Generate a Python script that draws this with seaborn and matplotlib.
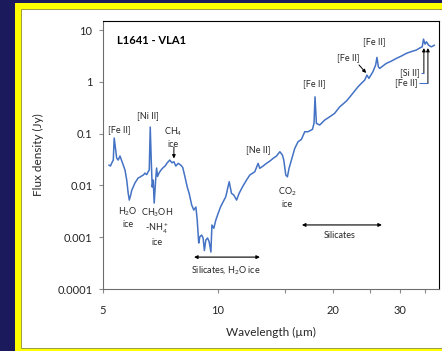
import matplotlib
matplotlib.use("Agg")
import matplotlib.pyplot as plt
import pandas as pd
import seaborn as sns
from matplotlib.patches import Rectangle
from matplotlib.ticker import FixedLocator, FixedFormatter, NullFormatter, NullLocator

# Spectral energy distribution of L1641 - VLA1
wavelength_um = [
    5.18, 5.23, 5.27, 5.32, 5.35, 5.40, 5.43, 5.48, 5.54, 5.59,
    5.65, 5.71, 5.77, 5.82, 5.86, 5.91, 5.95, 6.00, 6.06, 6.13,
    6.18, 6.25, 6.31, 6.38, 6.44, 6.51, 6.57, 6.61, 6.65, 6.69,
    6.73, 6.77, 6.81, 6.87, 6.91, 6.95, 7.01, 7.08, 7.17, 7.27,
    7.37, 7.48, 7.58, 7.67, 7.76, 7.87, 7.99, 8.09, 8.20, 8.31,
    8.41, 8.54, 8.65, 8.76, 8.83, 8.91, 8.97, 9.07, 9.15, 9.22,
    9.30, 9.40, 9.49, 9.59, 9.65, 9.76, 9.88, 10.02, 10.17, 10.33,
    10.49, 10.64, 10.71, 10.86, 11.01, 11.20, 11.37, 11.61, 11.89, 12.13,
    12.50, 12.75, 12.88, 13.14, 13.41, 13.69, 13.96, 14.25, 14.54, 14.77,
    14.89, 15.07, 15.22, 15.37, 15.59, 15.91, 16.23, 16.56, 16.90, 17.24,
    17.70, 17.87, 17.98, 18.13, 18.50, 19.06, 19.65, 20.24, 20.87, 21.73,
    22.39, 23.30, 23.82, 24.26, 24.60, 24.89, 25.50, 25.92, 26.13, 26.35,
    26.55, 27.65, 28.50, 29.37, 30.26, 31.19, 32.14, 33.12, 33.78, 34.34,
    34.61, 34.92, 35.24, 35.67, 36.26, 36.61, 36.99,
]
flux_jy = [
    0.0248, 0.0237, 0.0270, 0.0309, 0.0822, 0.0482, 0.0338, 0.0309, 0.0370, 0.0309,
    0.0248, 0.0198, 0.0127, 0.00713, 0.00522, 0.00653, 0.00815, 0.00931, 0.0111, 0.0127,
    0.0139, 0.0145, 0.0152, 0.0159, 0.0173, 0.0162, 0.0185, 0.0198, 0.134, 0.0309,
    0.00931, 0.0127, 0.00457, 0.0127, 0.0217, 0.0149, 0.0173, 0.0194, 0.0217, 0.0237,
    0.0274, 0.0309, 0.0274, 0.0287, 0.0237, 0.0267, 0.0248, 0.0223, 0.0147, 0.00944,
    0.00703, 0.00419, 0.00335, 0.00383, 0.00215, 0.000773, 0.00102, 0.00110, 0.000966, 0.000553,
    0.000883, 0.000966, 0.000818, 0.000517, 0.00172, 0.00149, 0.00215, 0.00289, 0.00388, 0.00484,
    0.00605, 0.00944, 0.0118, 0.00703, 0.00653, 0.00522, 0.00703, 0.00944, 0.0127, 0.0159,
    0.0184, 0.0267, 0.0214, 0.0237, 0.0267, 0.0296, 0.0333, 0.0370, 0.0448, 0.0386,
    0.0309, 0.0159, 0.0147, 0.0214, 0.0309, 0.0520, 0.0698, 0.0776, 0.109, 0.109,
    0.121, 0.158, 0.515, 0.158, 0.147, 0.183, 0.212, 0.247, 0.330, 0.426,
    0.556, 0.803, 0.948, 1.08, 1.35, 1.17, 1.57, 2.11, 2.97, 1.96,
    1.82, 2.28, 2.52, 2.84, 3.15, 3.55, 3.85, 4.11, 4.49, 4.76,
    6.70, 5.37, 5.94, 5.13, 4.76, 4.91, 5.13,
]

x_ticks = [5, 10, 20, 30]
x_tick_labels = ["5", "10", "20", "30"]
x_minor_ticks = [15, 25, 35]
y_ticks = [1e-4, 1e-3, 1e-2, 1e-1, 1, 10]
y_tick_labels = ["0.0001", "0.001", "0.01", "0.1", "1", "10"]

sns.set_theme(style="ticks")
plt.rcParams["font.family"] = ["Lato", "DejaVu Sans"]
plt.rcParams["mathtext.fontset"] = "custom"
plt.rcParams["mathtext.rm"] = "Lato"
plt.rcParams["mathtext.it"] = "Lato:italic"
plt.rcParams["mathtext.bf"] = "Lato:bold"

NAVY = "#1b1a5c"
YELLOW = "#ffff00"
BLUE = "#4472c4"
TEXT = "#262626"
W, H = 442, 351

fig = plt.figure(figsize=(W / 100, H / 100), dpi=100, facecolor=NAVY)

# slide frame: yellow border around a white panel
fig.add_artist(Rectangle((15 / W, -0.05), 1.2, 1 - 3 / H + 0.05,
                         transform=fig.transFigure, facecolor=YELLOW,
                         edgecolor="none", zorder=-3))
fig.add_artist(Rectangle((21 / W, 1 - 348 / H), 1.2, (348 - 9) / H,
                         transform=fig.transFigure, facecolor="white",
                         edgecolor="#8a8a3a", lw=0.6, zorder=-2))

ax = fig.add_axes([103 / W, 1 - 289 / H, 336 / W, 268 / H])
ax.set_facecolor("white")

df = pd.DataFrame({"Wavelength": wavelength_um, "Flux": flux_jy})
sns.lineplot(data=df, x="Wavelength", y="Flux", ax=ax, color=BLUE,
             lw=1.1, sort=False, estimator=None)

ax.set_xscale("log")
ax.set_yscale("log")
ax.set_xlim(5, 38)
ax.set_ylim(1e-4, 15)

ax.xaxis.set_major_locator(FixedLocator(x_ticks))
ax.xaxis.set_major_formatter(FixedFormatter(x_tick_labels))
ax.xaxis.set_minor_locator(FixedLocator(x_minor_ticks))
ax.xaxis.set_minor_formatter(NullFormatter())
ax.yaxis.set_major_locator(FixedLocator(y_ticks))
ax.yaxis.set_major_formatter(FixedFormatter(y_tick_labels))
ax.yaxis.set_minor_locator(NullLocator())

ax.tick_params(axis="x", which="both", direction="out", length=2.6,
               width=0.8, color="#8c8c8c", pad=9, labelsize=8,
               labelcolor=TEXT)
ax.tick_params(axis="y", which="major", direction="out", length=2.6,
               width=0.8, color="#8c8c8c", pad=5, labelsize=8,
               labelcolor=TEXT)

for side in ("top", "right"):
    ax.spines[side].set_color("black")
    ax.spines[side].set_linewidth(0.8)
    ax.spines[side].set_visible(True)
for side in ("left", "bottom"):
    ax.spines[side].set_color("#6e6e6e")
    ax.spines[side].set_linewidth(0.8)

ax.set_xlabel("")
ax.set_ylabel("")
fig.text(38 / W, 1 - 155 / H, "Flux density (Jy)", rotation=90,
         ha="center", va="center", fontsize=8.5, color=TEXT)
fig.text(271 / W, 1 - 332 / H, "Wavelength (µm)", ha="center",
         va="center", fontsize=8.5, color=TEXT)

ax.text(0.042, 0.926, "L1641 - VLA1", transform=ax.transAxes,
        ha="left", va="center", fontsize=8, fontweight="bold", color="black")

lbl = dict(transform=ax.transAxes, ha="center", va="center",
           fontsize=6.5, color=TEXT, linespacing=1.3)
ax.text(0.048, 0.593, "[Fe II]", **lbl)
ax.text(0.134, 0.646, "[Ni II]", **lbl)
ax.text(0.208, 0.565, "CH$_4$\nice", **lbl)
ax.text(0.074, 0.269, "H$_2$O\nice", **lbl)
ax.text(0.161, 0.231, "CH$_3$OH\n-NH$_4^+$\nice", **lbl)
ax.text(0.461, 0.519, "[Ne II]", **lbl)
ax.text(0.548, 0.343, "CO$_2$\nice", **lbl)
ax.text(0.366, 0.071, "Silicates, H$_2$O ice", **lbl)
ax.text(0.705, 0.198, "Silicates", **lbl)
ax.text(0.628, 0.765, "[Fe II]", **lbl)
ax.text(0.729, 0.862, "[Fe II]", **lbl)
ax.text(0.807, 0.922, "[Fe II]", **lbl)
ax.text(0.943, 0.807, "[Si II]", **{**lbl, "ha": "right"})
ax.text(0.9375, 0.769, "[Fe II]", **{**lbl, "ha": "right"})

arrow = dict(arrowstyle="-|>", color="black", lw=0.7, mutation_scale=5,
             shrinkA=0, shrinkB=0)
both = dict(arrowstyle="<|-|>", color="black", lw=0.8, mutation_scale=5,
            shrinkA=0, shrinkB=0)
ac = dict(xycoords="axes fraction", textcoords="axes fraction")

ax.annotate("", xy=(0.211, 0.487), xytext=(0.211, 0.530), arrowprops=arrow, **ac)
ax.annotate("", xy=(0.783, 0.806), xytext=(0.762, 0.836), arrowprops=arrow, **ac)
ax.annotate("", xy=(0.271, 0.119), xytext=(0.467, 0.119), arrowprops=both, **ac)
ax.annotate("", xy=(0.592, 0.239), xytext=(0.830, 0.239), arrowprops=both, **ac)

# leader lines for the blended lines near 35 µm
ax.plot([0.946, 0.955], [0.807, 0.807], transform=ax.transAxes,
        color=BLUE, lw=0.8, solid_capstyle="butt")
ax.plot([0.940, 0.967], [0.769, 0.769], transform=ax.transAxes,
        color=BLUE, lw=0.8, solid_capstyle="butt")
ax.annotate("", xy=(0.955, 0.899), xytext=(0.955, 0.807), arrowprops=arrow, **ac)
ax.annotate("", xy=(0.967, 0.899), xytext=(0.967, 0.769), arrowprops=arrow, **ac)

fig.savefig("out.png", dpi=100, facecolor=NAVY)
